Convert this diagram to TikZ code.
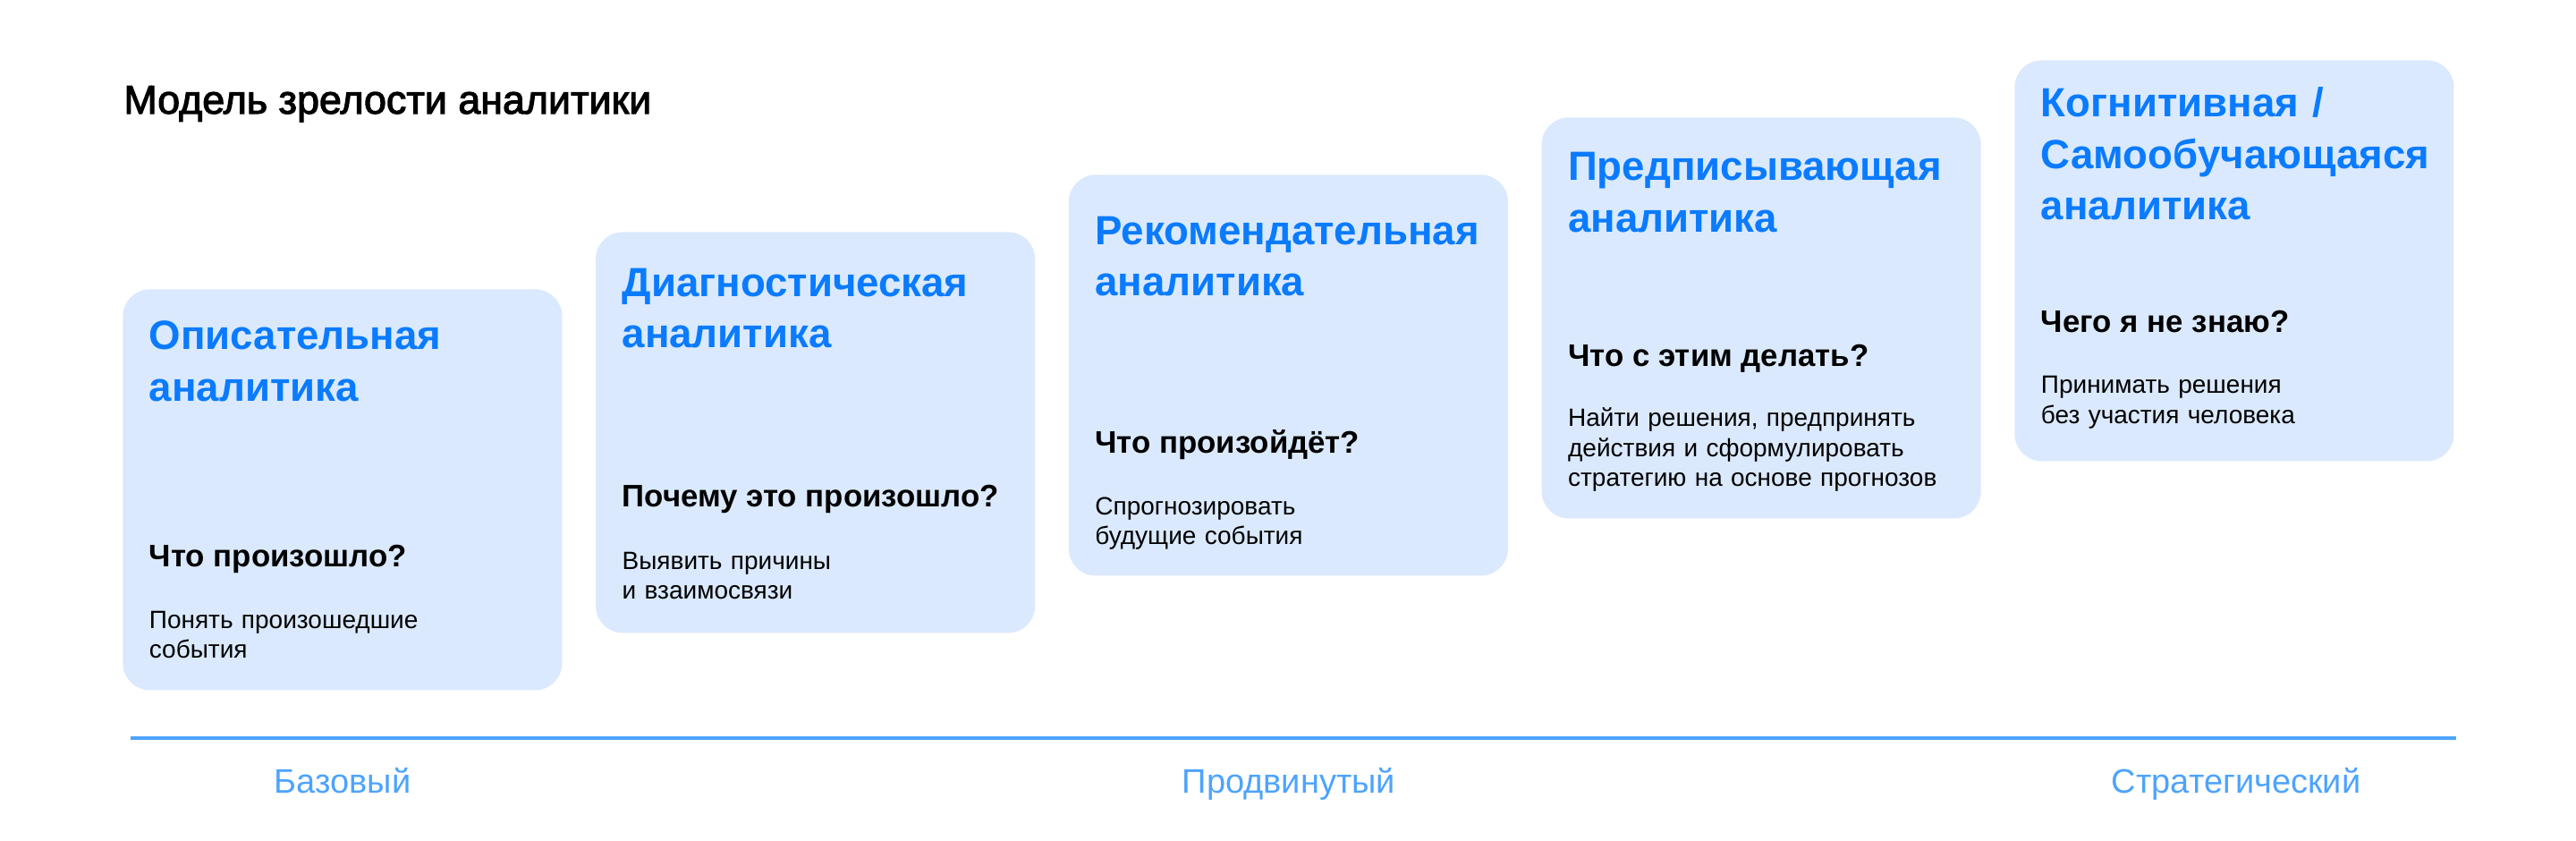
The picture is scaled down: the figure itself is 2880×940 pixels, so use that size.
\documentclass[tikz,border=0pt]{standalone}
\usepackage{fontspec}
\setmainfont{Liberation Sans}
\newfontfamily\titlefont[FakeBold=2.5]{Liberation Sans}
\definecolor{cardfill}{HTML}{DAE9FD}
\definecolor{headblue}{HTML}{0A7BFF}
\definecolor{axisblue}{HTML}{4DA3FF}
\tikzset{
	card/.style={fill=cardfill,rounded corners=15pt,minimum width=245.5pt,minimum height=224pt,inner sep=0pt,anchor=north west},
	headtxt/.style={anchor=base west,inner sep=0pt,text=headblue,text width=235pt,align=left,font=\fontsize{22.8}{28.75}\selectfont\bfseries},
	questtxt/.style={anchor=base west,inner sep=0pt,font=\fontsize{17.4}{20}\selectfont\bfseries},
	desctxt/.style={anchor=base west,inner sep=0pt,text width=235pt,align=left,font=\fontsize{14}{16.75}\selectfont},
	leveltxt/.style={anchor=base,inner sep=0pt,text=axisblue,font=\fontsize{19}{22}\selectfont}
}
\begin{document}
\begin{tikzpicture}[x=0.5pt,y=-0.5pt]
		\useasboundingbox (0,0) rectangle (2880,940);
		\node[anchor=base west,inner sep=0pt,font=\titlefont\fontsize{22.4}{26}\selectfont] (title) at (138,127) {Модель зрелости аналитики};
		\foreach \i/\hy/\qy/\dy/\htext/\qtext/\dtext in{
			1/68/310/379/{Описательная\\аналитика}/{Что произошло?}/{Понять произошедшие\\события},
			2/72.4/307.7/377/{Диагностическая\\аналитика}/{Почему это произошло?}/{Выявить причины\\и взаимосвязи},
			3/78.3/311.7/380/{Рекомендательная\\аналитика}/{Что произойдёт?}/{Спрогнозировать\\будущие события},
			4/70.7/279/346/{Предписывающая\\аналитика}/{Что с этим делать?}/{Найти решения, предпринять\\действия и сформулировать\\стратегию на основе прогнозов},
			5/63.7/304.7/373/{Когнитивная /\\Самообучающаяся\\аналитика}/{Чего я не знаю?}/{Принимать решения\\без участия человека}}{
			\pgfmathsetmacro\cx{137+528.75*(\i-1)}
			\pgfmathsetmacro\cy{323-64*(\i-1)}
			\node[card] (card\i) at (\cx,\cy) {};
			\node[headtxt] (head\i) at (\cx+29.5,\cy+\hy) {\htext};
			\node[questtxt] (quest\i) at (\cx+29.5,\cy+\qy) {\qtext};
			\node[desctxt] (desc\i) at (\cx+29.5,\cy+\dy) {\dtext};
		}
		\coordinate (axisL) at (146,825);
		\coordinate (axisR) at (2746,825);
		\draw[axisblue,line width=1.65pt] (axisL)--(axisR);
		\node[leveltxt] (basic) at (383,886) {Базовый};
		\node[leveltxt] (advanced) at (1441,886) {Продвинутый};
		\node[leveltxt] (strategic) at (2500,886) {Стратегический};
	\end{tikzpicture}
\end{document}
